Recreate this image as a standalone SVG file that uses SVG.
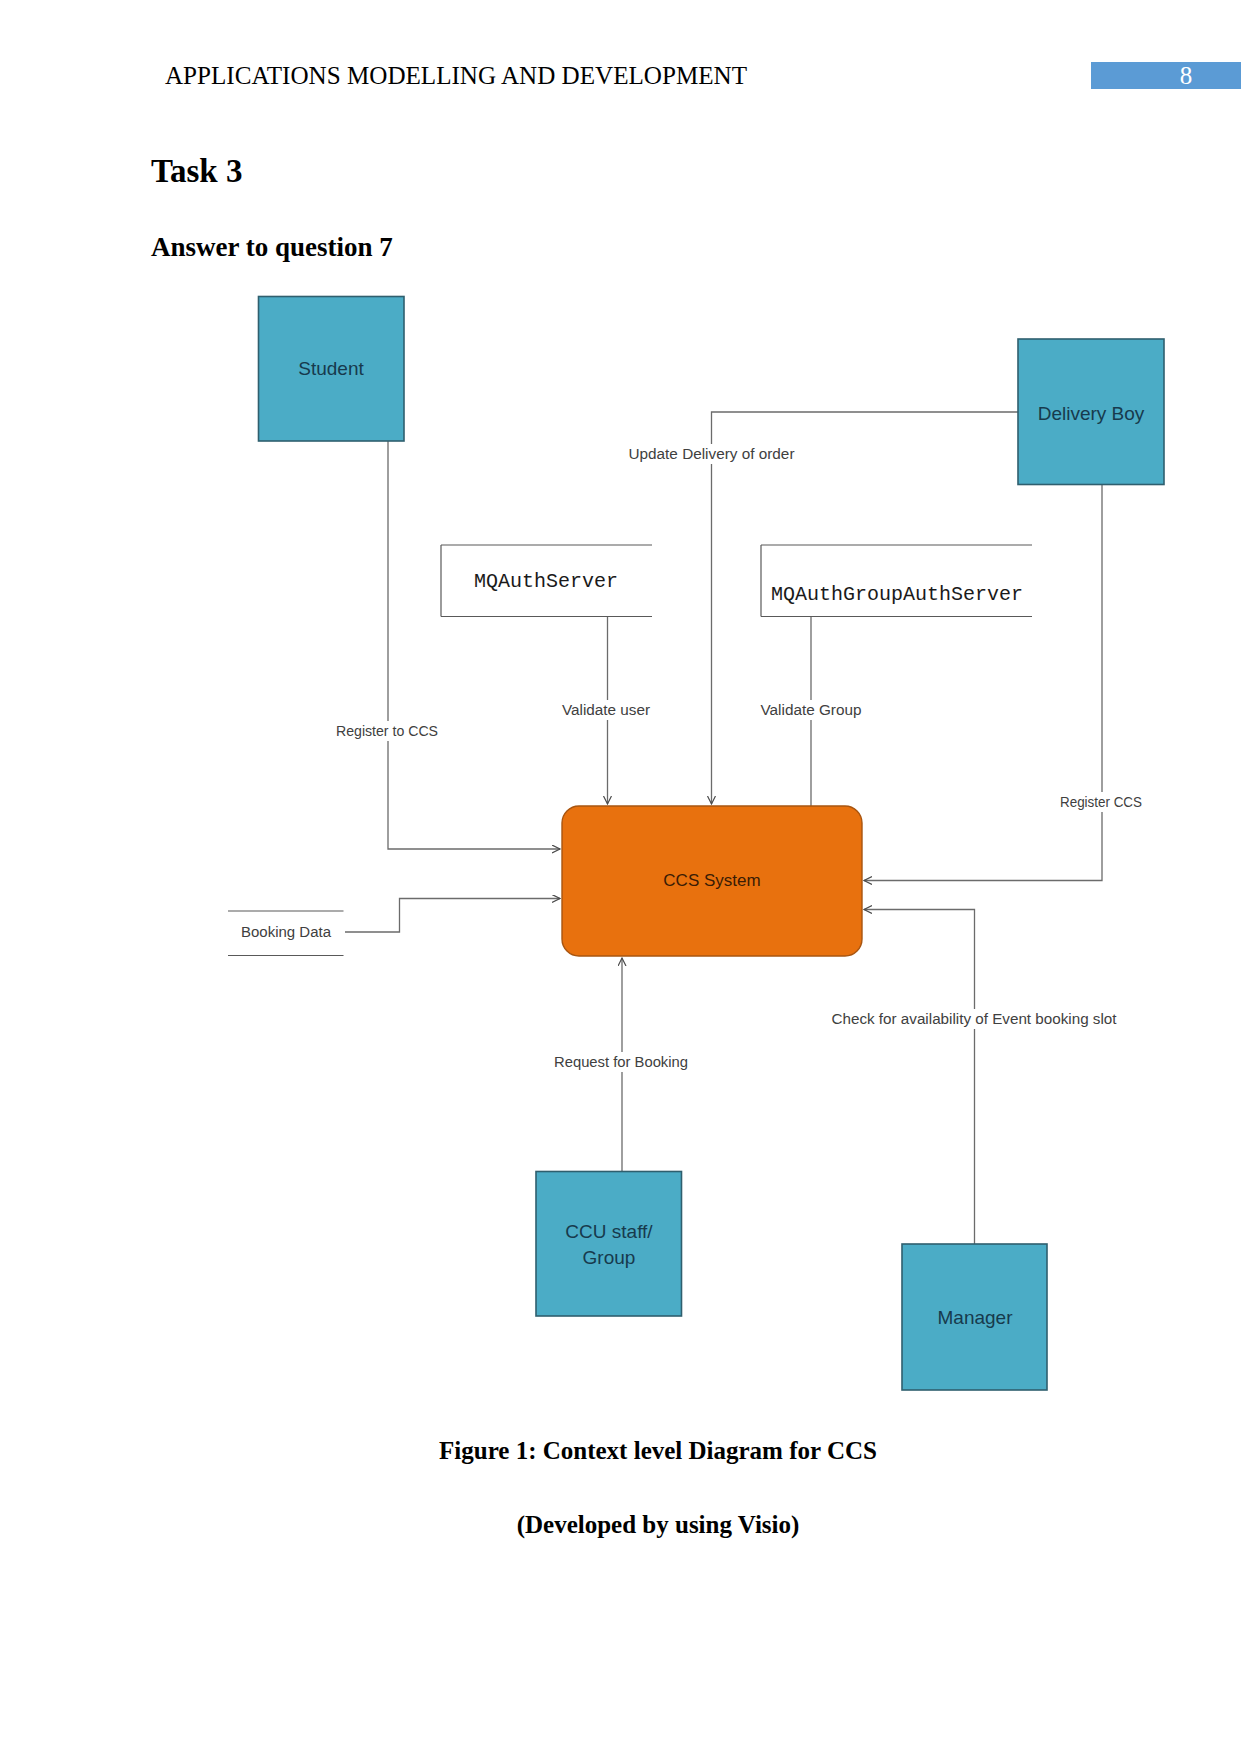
<svg xmlns="http://www.w3.org/2000/svg" width="1241" height="1754" viewBox="0 0 1241 1754">
<style>
.hdr{font-family:"Liberation Serif","Times New Roman",serif;fill:#000}
.ent rect{fill:#4BACC6;stroke:#2f5f6e;stroke-width:1.6}
.ent text{font-family:"Liberation Sans",Arial,sans-serif;font-size:19px;fill:#173a4d;text-anchor:middle;dominant-baseline:central}
.store line{stroke:#595959;stroke-width:1.2}
.mono{font-family:"Liberation Mono","Courier New",monospace;font-size:20px;fill:#1a1a1a}
.lbl{font-family:"Liberation Sans",Arial,sans-serif;font-size:14px;fill:#404040;text-anchor:middle;dominant-baseline:central}
.gap{fill:#fff}
.wire{fill:none;stroke:#6b6b6b;stroke-width:1.3}
</style>
<defs>
<marker id="arr" markerUnits="userSpaceOnUse" markerWidth="10" markerHeight="10" refX="8" refY="4" orient="auto">
<path d="M0,0 L8,4 L0,8" fill="none" stroke="#4a4a4a" stroke-width="1.2"/>
</marker>
</defs>
<rect width="1241" height="1754" fill="#fff"/>

<g id="page-header">
<text class="hdr" x="165" y="84" font-size="25" textLength="582" lengthAdjust="spacingAndGlyphs">APPLICATIONS MODELLING AND DEVELOPMENT</text>
<rect x="1091" y="62" width="150" height="27" fill="#5B9BD5"/>
<text class="hdr" x="1186" y="84" font-size="25" style="fill:#fff" text-anchor="middle">8</text>
<text class="hdr" x="151" y="182" font-size="33" font-weight="bold">Task 3</text>
<text class="hdr" x="151" y="256" font-size="27" font-weight="bold">Answer to question 7</text>
</g>

<g id="connectors">
<path class="wire" d="M388,441 V849 H560" marker-end="url(#arr)"/>
<path class="wire" d="M345,932 H399.5 V898.5 H560" marker-end="url(#arr)"/>
<path class="wire" d="M607.5,616.5 V804" marker-end="url(#arr)"/>
<path class="wire" d="M1018,412 H711.5 V804" marker-end="url(#arr)"/>
<path class="wire" d="M811,616.5 V806"/>
<path class="wire" d="M1102,484.5 V880.5 H864" marker-end="url(#arr)"/>
<path class="wire" d="M974.5,1244 V909.5 H864" marker-end="url(#arr)"/>
<path class="wire" d="M622,1171.5 V958" marker-end="url(#arr)"/>

<rect class="gap" x="626" y="444" width="172" height="20"/>
<text class="lbl" x="711.5" y="454" textLength="166" lengthAdjust="spacingAndGlyphs">Update Delivery of order</text>
<rect class="gap" x="559" y="700" width="94" height="20"/>
<text class="lbl" x="606" y="710" textLength="88" lengthAdjust="spacingAndGlyphs">Validate user</text>
<rect class="gap" x="757" y="700" width="107" height="20"/>
<text class="lbl" x="811" y="710" textLength="101" lengthAdjust="spacingAndGlyphs">Validate Group</text>
<rect class="gap" x="334" y="721" width="108" height="20"/>
<text class="lbl" x="387" y="731" textLength="102" lengthAdjust="spacingAndGlyphs">Register to CCS</text>
<rect class="gap" x="1058" y="792" width="88" height="20"/>
<text class="lbl" x="1101" y="802" textLength="82" lengthAdjust="spacingAndGlyphs">Register CCS</text>
<rect class="gap" x="829" y="1009" width="291" height="20"/>
<text class="lbl" x="974" y="1019" textLength="285" lengthAdjust="spacingAndGlyphs">Check for availability  of Event booking slot</text>
<rect class="gap" x="552" y="1052" width="140" height="20"/>
<text class="lbl" x="621" y="1062" textLength="134" lengthAdjust="spacingAndGlyphs">Request for Booking</text>
</g>

<g id="student" class="ent">
<rect x="258.5" y="296.5" width="145.5" height="144.5"/>
<text x="331" y="368">Student</text>
</g>

<g id="delivery-boy" class="ent">
<rect x="1018" y="339" width="146" height="145.5"/>
<text x="1091" y="413">Delivery Boy</text>
</g>

<g id="ccu-staff" class="ent">
<rect x="536" y="1171.5" width="145.5" height="144.5"/>
<text x="609" y="1231">CCU staff/</text>
<text x="609" y="1257">Group</text>
</g>

<g id="manager" class="ent">
<rect x="902" y="1244" width="145" height="146"/>
<text x="975" y="1317">Manager</text>
</g>

<g id="ccs-system">
<rect x="562" y="806" width="300" height="150" rx="17" ry="17" fill="#E8710E" stroke="#a85510" stroke-width="1.4"/>
<text x="712" y="880" font-family="Liberation Sans, Arial, sans-serif" font-size="17" fill="#3a1c05" text-anchor="middle" dominant-baseline="central">CCS System</text>
</g>

<g id="mqauthserver" class="store">
<line x1="441" y1="545" x2="652" y2="545"/>
<line x1="441" y1="616.5" x2="652" y2="616.5"/>
<line x1="441" y1="545" x2="441" y2="616.5"/>
<text class="mono" x="474" y="587">MQAuthServer</text>
</g>

<g id="mqauthgroupauthserver" class="store">
<line x1="761" y1="545" x2="1032" y2="545"/>
<line x1="761" y1="616.5" x2="1032" y2="616.5"/>
<line x1="761" y1="545" x2="761" y2="616.5"/>
<text class="mono" x="771" y="600">MQAuthGroupAuthServer</text>
</g>

<g id="booking-data" class="store">
<line x1="228" y1="911" x2="343.5" y2="911"/>
<line x1="228" y1="955.5" x2="343.5" y2="955.5"/>
<text class="lbl" x="286" y="932" textLength="90" lengthAdjust="spacingAndGlyphs">Booking Data</text>
</g>

<g id="caption">
<text class="hdr" x="658" y="1459" font-size="25" font-weight="bold" text-anchor="middle">Figure 1: Context level Diagram for CCS</text>
<text class="hdr" x="658" y="1533" font-size="25" font-weight="bold" text-anchor="middle">(Developed by using Visio)</text>
</g>
</svg>
